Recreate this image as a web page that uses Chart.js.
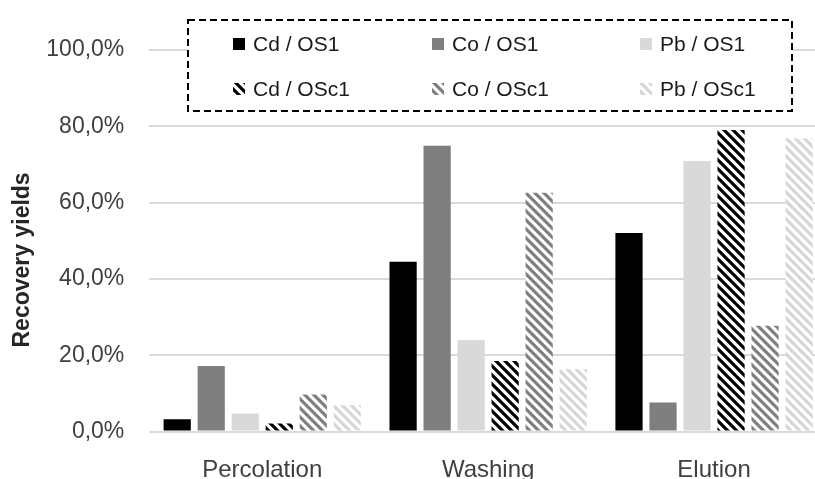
<!DOCTYPE html>
<html>
<head>
<meta charset="utf-8">
<script src="https://cdn.jsdelivr.net/npm/chart.js@4"></script>
<style>
  html, body { margin: 0; padding: 0; background: #fff; overflow: hidden; }
  #wrap { width: 815px; height: 479px; overflow: hidden; }
</style>
</head>
<body>
<div id="wrap"><canvas id="chart__recovery" width="830" height="490"></canvas></div>
<script>
// values (percent)
const steps = ['Percolation', 'Washing', 'Elution'];
const cdOS1 = [3.2, 44.5, 52.0];
const coOS1 = [17.2, 74.9, 7.6];
const pbOS1 = [4.7, 24.0, 70.9];
const cdOSc1 = [2.1, 18.5, 79.0];
const coOSc1 = [9.7, 62.6, 27.7];
const pbOSc1 = [6.9, 16.3, 76.8];
const yTicks = [0, 20, 40, 60, 80, 100];

const FONT = "'Liberation Sans', Arial, sans-serif";

// diagonal "\" stripes on white
function stripes(color) {
    const c = document.createElement('canvas');
    c.width = 9; c.height = 9;
    const g = c.getContext('2d');
    g.fillStyle = '#fff';
    g.fillRect(0, 0, 9, 9);
    g.strokeStyle = color;
    g.lineWidth = 3.2;
    g.beginPath();
    for (let k = -1; k <= 1; k++) {
        g.moveTo(-2, -2 + 9 * k);
        g.lineTo(11, 11 + 9 * k);
    }
    g.stroke();
    return g.createPattern(c, 'repeat');
}

const series = [
    { label: 'Cd / OS1', data: cdOS1, fill: '#000000' },
    { label: 'Co / OS1', data: coOS1, fill: '#7f7f7f' },
    { label: 'Pb / OS1', data: pbOS1, fill: '#d9d9d9' },
    { label: 'Cd / OSc1', data: cdOSc1, fill: stripes('#000000') },
    { label: 'Co / OSc1', data: coOSc1, fill: stripes('#7f7f7f') },
    { label: 'Pb / OSc1', data: pbOSc1, fill: stripes('#d6d6d6') },
];

// dashed legend box laid over the top of the plot
const boxLegend = {
    id: 'boxLegend',
    afterDraw(chart) {
        const ctx = chart.ctx;
        ctx.save();
        ctx.fillStyle = '#fff';
        ctx.fillRect(188, 20, 604, 91);
        ctx.setLineDash([7, 4]);
        ctx.lineWidth = 2;
        ctx.strokeStyle = '#000';
        ctx.strokeRect(188, 20, 604, 91);
        ctx.setLineDash([]);
        const cols = [233, 432, 640];
        const rows = [44, 89];
        ctx.font = '21px ' + FONT;
        ctx.textBaseline = 'middle';
        chart.data.datasets.forEach((ds, i) => {
            const x = cols[i % 3], y = rows[Math.floor(i / 3)];
            ctx.fillStyle = ds.backgroundColor;
            ctx.fillRect(x, y - 6, 12, 12);
            ctx.fillStyle = '#1a1a1a';
            ctx.fillText(ds.label, x + 20, y + 1);
        });
        ctx.restore();
    }
};

new Chart(
    document.getElementById('chart__recovery'),
    {
        type: 'bar',
        data: {
            labels: steps,
            datasets: series.map(s => ({
                label: s.label,
                data: s.data,
                backgroundColor: s.fill,
                borderWidth: 0,
                categoryPercentage: 0.9035,
                barPercentage: 0.8
            }))
        },
        options: {
            responsive: false,
            animation: false,
            layout: { padding: { top: 50, right: 3, bottom: 0, left: 0 } },
            plugins: {
                legend: { display: false },
                tooltip: { enabled: false }
            },
            scales: {
                x: {
                    grid: { display: false },
                    border: { display: false },
                    ticks: {
                        padding: 16,
                        color: '#404040',
                        font: { family: FONT, size: 24 }
                    },
                    afterFit(scale) { scale.height = 58.5; }
                },
                y: {
                    min: 0,
                    max: 100,
                    afterBuildTicks(scale) { scale.ticks = yTicks.map(v => ({ value: v })); },
                    grid: { color: '#d9d9d9', lineWidth: 2, drawTicks: false },
                    border: { display: false },
                    ticks: {
                        padding: 25,
                        color: '#404040',
                        font: { family: FONT, size: 23 },
                        callback: v => v.toFixed(1).replace('.', ',') + '%'
                    },
                    title: {
                        display: true,
                        text: 'Recovery yields      ',
                        color: '#262626',
                        padding: { top: 9, bottom: 0 },
                        font: { family: FONT, size: 23, weight: 'bold' }
                    },
                    afterFit(scale) { scale.width = 149.3; }
                }
            }
        },
        plugins: [boxLegend]
    }
);
</script>
</body>
</html>
